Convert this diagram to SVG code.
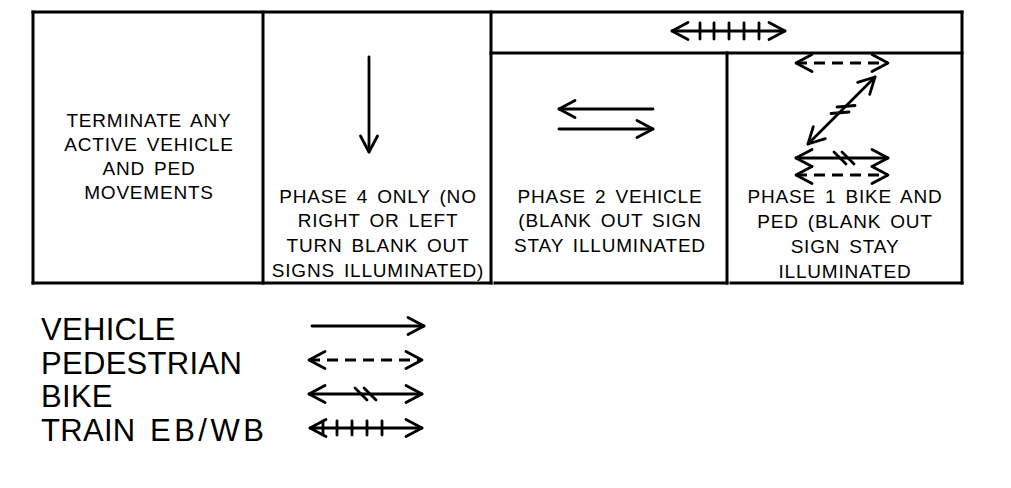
<svg xmlns="http://www.w3.org/2000/svg" width="1011" height="488" viewBox="0 0 1011 488">
<style>
  .frame{stroke:#000;stroke-width:3;fill:none;stroke-linecap:square}
  .ar{stroke:#000;stroke-width:2.8;fill:none;stroke-linecap:round}
  .dash{stroke-dasharray:11 7;stroke-linecap:butt}
  .tk{stroke:#000;stroke-width:2.8;fill:none;stroke-linecap:round}
  .cell{font-family:"Liberation Sans",Arial,sans-serif;font-size:19px;letter-spacing:0.8px;word-spacing:3px;text-anchor:middle;fill:#000}
  .leg{font-family:"Liberation Sans",Arial,sans-serif;font-size:31px;letter-spacing:0.3px;fill:#000}
</style>
<defs>
  <marker id="head" markerUnits="userSpaceOnUse" markerWidth="20" markerHeight="20" refX="16" refY="8.5" orient="auto-start-reverse" overflow="visible">
    <path d="M0,0 L16,8.5 L0,17" fill="none" stroke="#000" stroke-width="2.8" stroke-linecap="round" stroke-linejoin="round" stroke-dasharray="none"/>
  </marker>
</defs>
<rect width="1011" height="488" fill="#fff"/>

<g id="frame">
  <line class="frame" x1="33" y1="12" x2="962" y2="12"/>
  <line class="frame" x1="33" y1="12" x2="33" y2="283"/>
  <line class="frame" x1="962" y1="12" x2="962" y2="283"/>
  <line class="frame" x1="263" y1="12" x2="263" y2="283"/>
  <line class="frame" x1="491" y1="12" x2="491" y2="283"/>
  <line class="frame" x1="491" y1="53" x2="962" y2="53"/>
  <line class="frame" x1="727" y1="53" x2="727" y2="283"/>
  <line class="frame" x1="33" y1="283" x2="491" y2="283"/>
  <line class="frame" x1="495" y1="283" x2="727" y2="283"/>
  <line class="frame" x1="731" y1="283" x2="962" y2="283"/>
</g>

<g id="cell-terminate">
  <text class="cell" x="149" y="127">TERMINATE ANY</text>
  <text class="cell" x="149" y="151">ACTIVE VEHICLE</text>
  <text class="cell" x="149" y="175">AND PED</text>
  <text class="cell" x="149" y="199">MOVEMENTS</text>
</g>

<g id="cell-phase4">
  <text class="cell" x="378" y="203">PHASE 4 ONLY (NO</text>
  <text class="cell" x="378" y="227">RIGHT OR LEFT</text>
  <text class="cell" x="378" y="252">TURN BLANK OUT</text>
  <text class="cell" x="378" y="277">SIGNS ILLUMINATED)</text>
</g>

<g id="cell-phase2">
  <text class="cell" x="610" y="203">PHASE 2 VEHICLE</text>
  <text class="cell" x="610" y="227">(BLANK OUT SIGN</text>
  <text class="cell" x="610" y="252">STAY ILLUMINATED</text>
</g>

<g id="cell-phase1">
  <text class="cell" x="845" y="203">PHASE 1 BIKE AND</text>
  <text class="cell" x="845" y="228">PED (BLANK OUT</text>
  <text class="cell" x="845" y="253">SIGN STAY</text>
  <text class="cell" x="845" y="278">ILLUMINATED</text>
</g>

<g id="legend-text">
  <text class="leg" x="41" y="340">VEHICLE</text>
  <text class="leg" x="41" y="374">PEDESTRIAN</text>
  <text class="leg" x="41" y="407">BIKE</text>
  <text class="leg" x="41" y="441">TRAIN <tspan x="150" letter-spacing="3.5">EB/WB</tspan></text>
</g>

<g id="connectors">
  <!-- train header -->
  <line class="ar" x1="672" y1="31" x2="785" y2="31" marker-start="url(#head)" marker-end="url(#head)"/>
  <path class="tk" d="M700,23 V39 M714,23 V39 M729,23 V39 M744,23 V39 M759,23 V39"/>
  <!-- phase 4 down arrow -->
  <line class="ar" x1="369" y1="57" x2="369" y2="152" marker-end="url(#head)"/>
  <!-- phase 2 -->
  <line class="ar" x1="653" y1="109" x2="559" y2="109" marker-end="url(#head)"/>
  <line class="ar" x1="559" y1="129" x2="653" y2="129" marker-end="url(#head)"/>
  <!-- phase 1 -->
  <line class="ar dash" x1="796" y1="63" x2="888" y2="63" marker-start="url(#head)" marker-end="url(#head)"/>
  <line class="ar" x1="808" y1="144" x2="875" y2="77" marker-start="url(#head)" marker-end="url(#head)"/>
  <path class="tk" d="M837,107 L855,105.5 M831,113.5 L849,112"/>
  <line class="ar" x1="796" y1="158" x2="888" y2="158" marker-start="url(#head)" marker-end="url(#head)"/>
  <path class="tk" d="M834,152 L846,164 M842,152 L854,164"/>
  <line class="ar dash" x1="796" y1="175" x2="888" y2="175" marker-start="url(#head)" marker-end="url(#head)"/>
  <!-- legend -->
  <line class="ar" x1="312" y1="326" x2="424" y2="326" marker-end="url(#head)"/>
  <line class="ar dash" x1="309" y1="360" x2="422" y2="360" marker-start="url(#head)" marker-end="url(#head)"/>
  <line class="ar" x1="309" y1="394" x2="422" y2="394" marker-start="url(#head)" marker-end="url(#head)"/>
  <path class="tk" d="M355,388 L367,400 M364,388 L376,400"/>
  <line class="ar" x1="310" y1="428" x2="422" y2="428" marker-start="url(#head)" marker-end="url(#head)"/>
  <path class="tk" d="M323,421 V435 M337,421 V435 M352,421 V435 M367,421 V435 M382,421 V435"/>
</g>
</svg>
